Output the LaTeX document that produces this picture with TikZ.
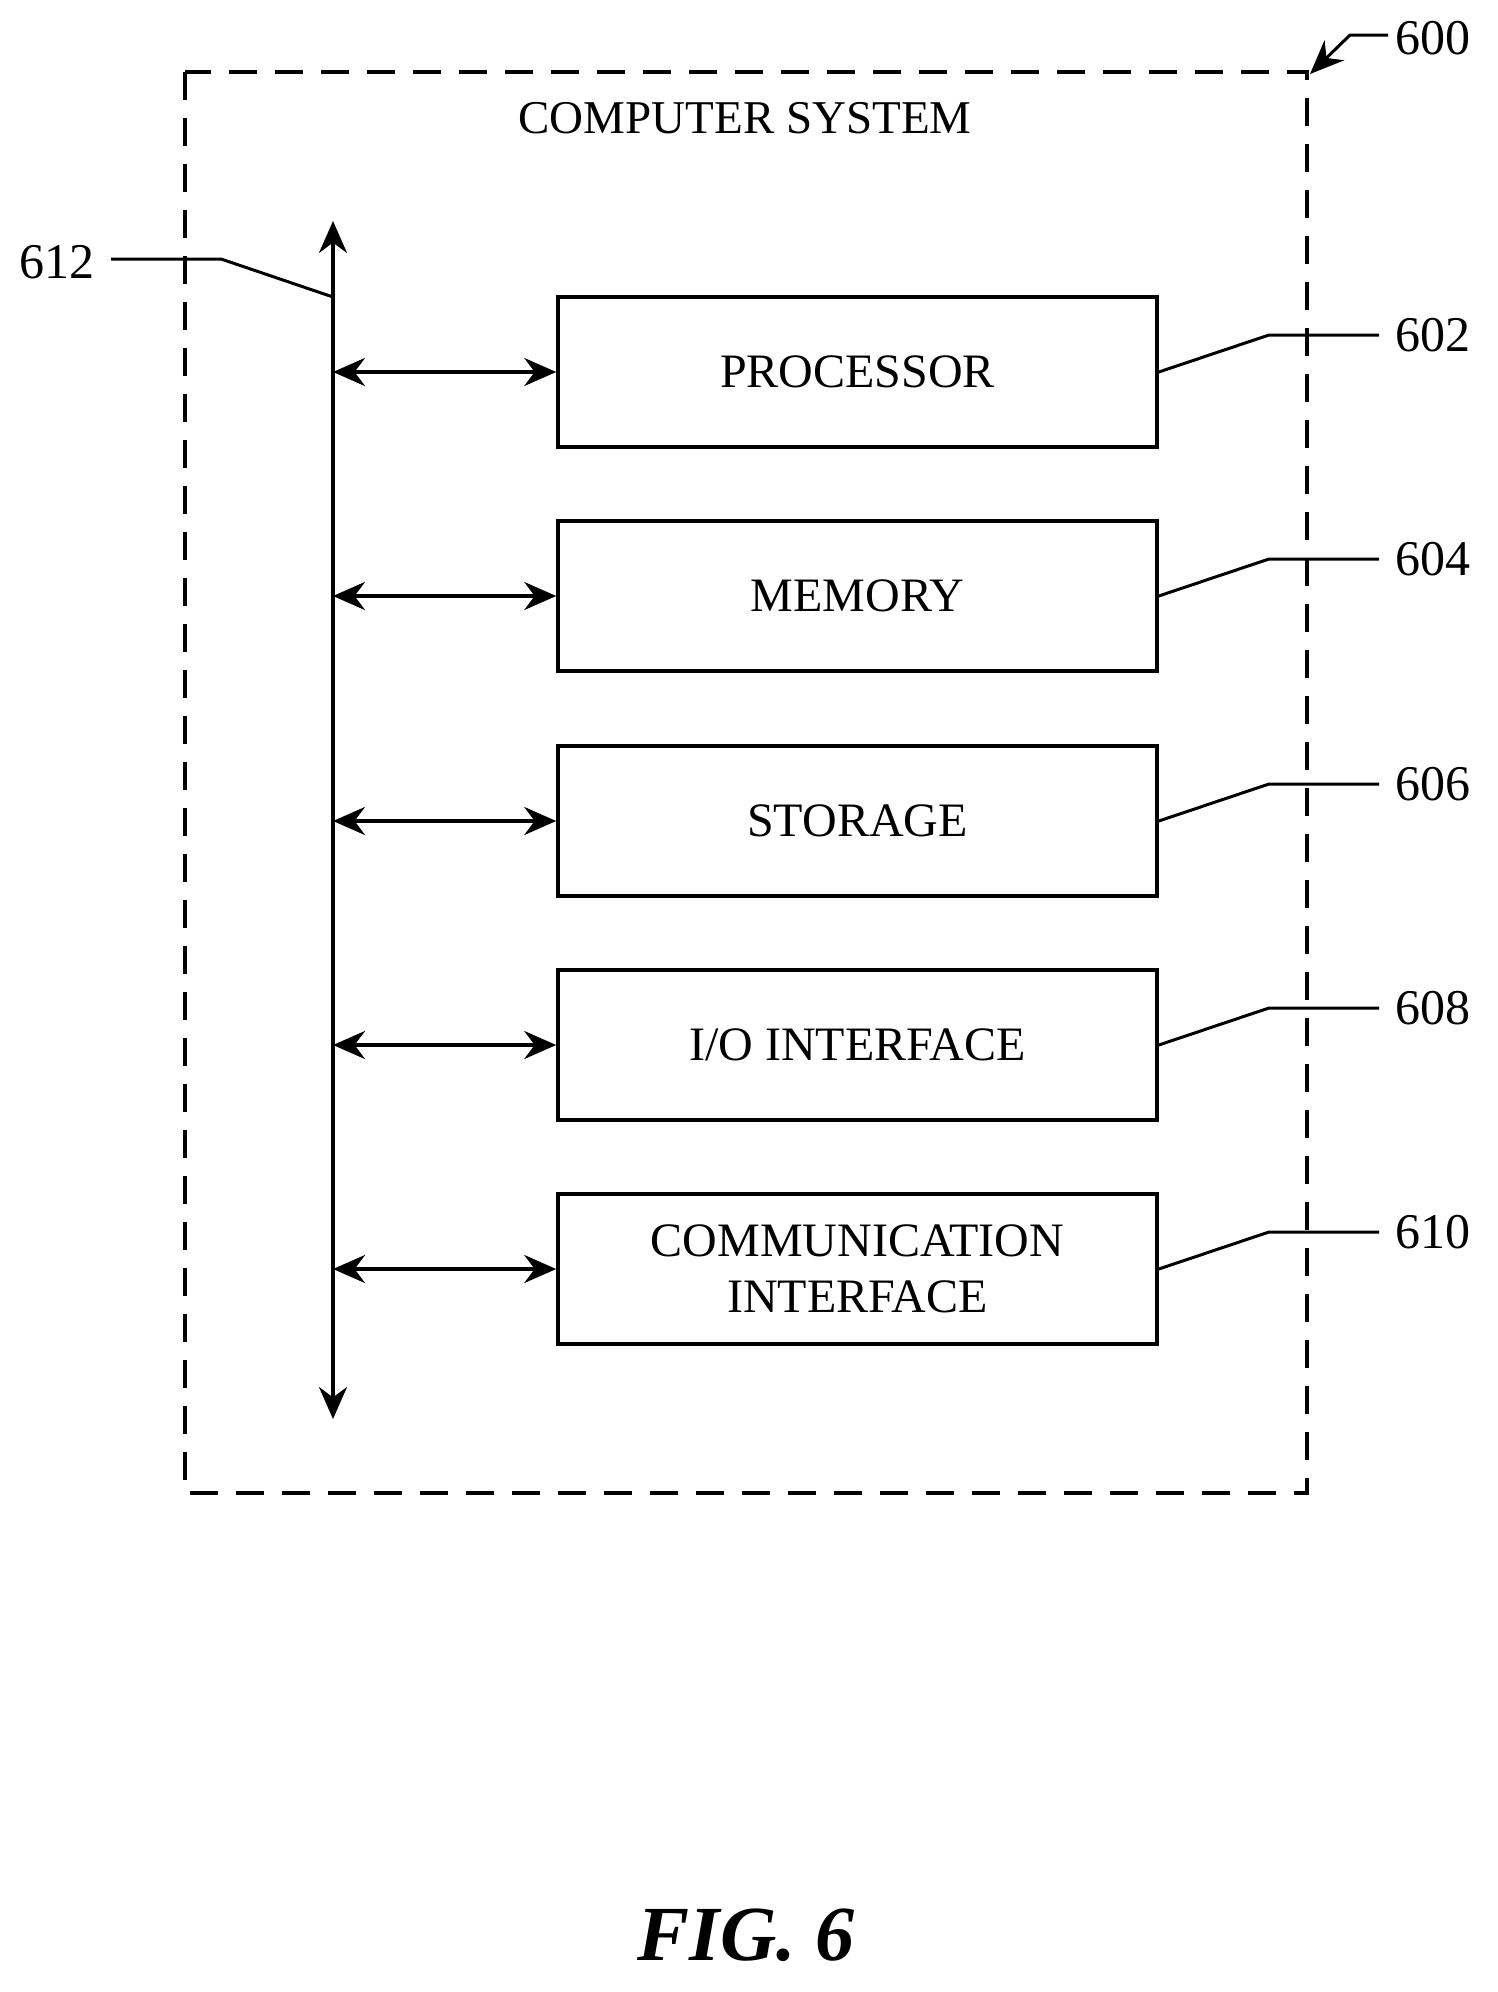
\documentclass[tikz,border=0pt]{standalone}
\usepackage{fontspec}
\setmainfont{Liberation Serif}
\usetikzlibrary{arrows.meta}
\begin{document}
\begin{tikzpicture}[x=1pt,y=-1pt,line width=3.5pt,
  box/.style={draw,minimum width=599pt,minimum height=150pt,font=\fontsize{48}{56}\selectfont,align=center,inner sep=0pt},
  lbl/.style={font=\fontsize{50}{54}\selectfont},
  biarr/.style={{Stealth[length=32pt,width=28pt]}-{Stealth[length=32pt,width=28pt]}},
  lead/.style={line width=3pt}]
\useasboundingbox (0,0) rectangle (1497,1992);
\draw[dash pattern=on 28pt off 18pt] (185,72) rectangle (1307,1493);
\node[font=\fontsize{47}{52}\selectfont] (title) at (745,118) {COMPUTER SYSTEM};
\coordinate (bt) at (333,221); \coordinate (bb) at (333,1419);
\draw[biarr] (bt) -- (bb);
\foreach \n/\y/\t/\l in {p/372/PROCESSOR/602,m/596/MEMORY/604,s/821/STORAGE/606,i/1045/I\slash O INTERFACE/608,c/1269/{COMMUNICATION\\INTERFACE}/610}{
  \node[box] (\n) at (857.5,\y) {\t};
  \coordinate (b\n) at (333,\y);
  \draw[biarr] (b\n) -- (\n.west);
  \coordinate (k\n) at (1269,\y-37);
  \coordinate (e\n) at (1379,\y-37);
  \node[lbl,anchor=west] (l\n) at (1390,\y-37) {\l};
  \draw[lead] (\n.east) -- (k\n) -- (e\n);
}
\node[lbl] (l612) at (57,262) {612};
\coordinate (a612) at (111,259); \coordinate (k612) at (221,259); \coordinate (e612) at (333,297);
\draw[lead] (a612) -- (k612) -- (e612);
\node[lbl,anchor=west] (l600) at (1390,38) {600};
\coordinate (a600) at (1388,35); \coordinate (k600) at (1350,35); \coordinate (e600) at (1310,74);
\draw[lead,-{Stealth[length=34pt,width=28pt]}] (a600) -- (k600) -- (e600);
\node[font=\fontsize{78}{82}\selectfont\bfseries\itshape] (fig) at (746,1935) {FIG. 6};
\end{tikzpicture}
\end{document}
